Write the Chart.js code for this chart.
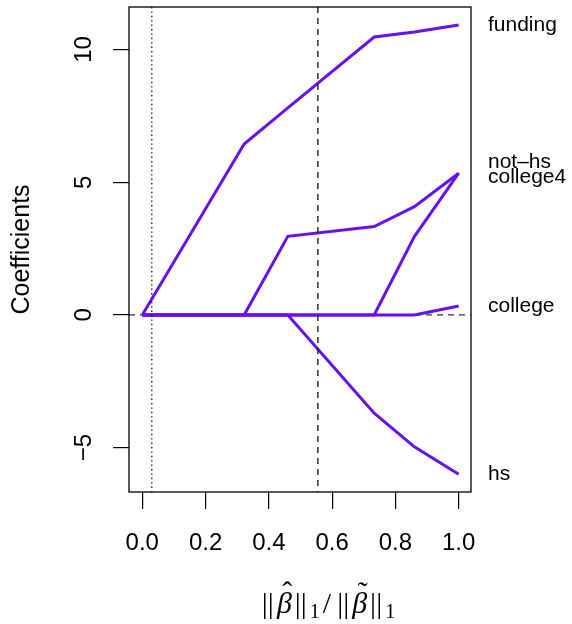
<!DOCTYPE html>
<html>
<head>
<meta charset="utf-8">
<script src="https://cdn.jsdelivr.net/npm/chart.js@4/dist/chart.umd.min.js"></script>
<style>
  body { margin: 0; background: #fff; }
  #wrap { width: 572px; height: 624px; }
</style>
</head>
<body>
<div id="wrap"><canvas id="pathChart"></canvas></div>
<script>
// lasso path: |beta|_1 / max|beta|_1 at each breakpoint
var fraction = [0, 0.322, 0.46, 0.733, 0.86, 1.0];

var funding  = [0, 6.44, 7.8, 10.47, 10.66, 10.92];
var notHs    = [0, 0, 2.96, 3.33, 4.08, 5.34];
var college4 = [0, 0, 0, 0, 2.95, 5.34];
var college  = [0, 0, 0, 0, 0, 0.34];
var hs       = [0, 0, 0, -3.70, -4.97, -6.0];

var seriesNames = ["funding", "not\u2013hs", "college4", "college", "hs"];
var xTicks = [0, 0.2, 0.4, 0.6, 0.8, 1.0];
var yTicks = [-5, 0, 5, 10];

var cvMin = 0.03;   // dotted line
var cvBest = 0.555; // dashed line

var lineColor = "rgb(102, 17, 238)";
var sans = '"Liberation Sans", Arial, sans-serif';

function toPoints(vals) {
    var pts = [];
    for (var i = 0; i < fraction.length; i++) {
        pts.push({ x: fraction[i], y: vals[i] });
    }
    return pts;
}

var allSeries = [funding, notHs, college4, college, hs];
var datasets = [];
for (var i = 0; i < allSeries.length; i++) {
    datasets.push({
        label: seriesNames[i],
        data: toPoints(allSeries[i]),
        borderColor: lineColor,
        borderWidth: 3,
        pointRadius: 0,
        tension: 0,
        fill: false
    });
}

// small nudge so not-hs / college4 don't sit on top of each other
var labelNudge = [0, -11, 4, 0, 0];

var extras = {
    id: "extras",
    beforeDatasetsDraw: function(chart) {
        var ctx = chart.ctx, ys = chart.scales.y;
        var a = chart.chartArea;
        ctx.save();
        ctx.strokeStyle = "#333";
        ctx.lineWidth = 1.3;
        ctx.setLineDash([6, 5]);
        var y0 = ys.getPixelForValue(0);
        ctx.beginPath();
        ctx.moveTo(a.left, y0);
        ctx.lineTo(a.right, y0);
        ctx.stroke();
        ctx.restore();
    },
    afterDatasetsDraw: function(chart) {
        var ctx = chart.ctx, xs = chart.scales.x, ys = chart.scales.y;
        var a = chart.chartArea;
        ctx.save();
        // vertical reference lines
        ctx.strokeStyle = "#222";
        ctx.lineWidth = 1.4;
        ctx.setLineDash([1.4, 3]);
        var xd = xs.getPixelForValue(cvMin);
        ctx.beginPath(); ctx.moveTo(xd, a.top); ctx.lineTo(xd, a.bottom); ctx.stroke();
        ctx.setLineDash([6, 5]);
        var xb = xs.getPixelForValue(cvBest);
        ctx.beginPath(); ctx.moveTo(xb, a.top); ctx.lineTo(xb, a.bottom); ctx.stroke();
        ctx.setLineDash([]);

        // box
        ctx.strokeStyle = "#000";
        ctx.lineWidth = 1.3;
        ctx.strokeRect(a.left, a.top, a.right - a.left, a.bottom - a.top);

        // y tick labels, rotated like R
        ctx.fillStyle = "#000";
        ctx.font = "24px " + sans;
        ctx.textAlign = "center";
        ctx.textBaseline = "middle";
        for (var i = 0; i < yTicks.length; i++) {
            var py = ys.getPixelForValue(yTicks[i]);
            var txt = yTicks[i] < 0 ? "\u2212" + Math.abs(yTicks[i]) : String(yTicks[i]);
            ctx.save();
            ctx.translate(84, py);
            ctx.rotate(-Math.PI / 2);
            ctx.fillText(txt, 0, 0);
            ctx.restore();
        }
        // y title
        ctx.font = "25px " + sans;
        ctx.save();
        ctx.translate(22, (a.top + a.bottom) / 2);
        ctx.rotate(-Math.PI / 2);
        ctx.fillText("Coefficients", 0, 0);
        ctx.restore();

        // right-hand variable names
        ctx.font = "21px " + sans;
        ctx.textAlign = "left";
        for (var j = 0; j < allSeries.length; j++) {
            var last = allSeries[j][allSeries[j].length - 1];
            ctx.fillText(seriesNames[j], a.right + 17, ys.getPixelForValue(last) + labelNudge[j]);
        }

        drawNormRatio(ctx, 327, 613);
        ctx.restore();
    }
};

// ||beta-hat||_1 / ||beta-tilde||_1
function drawNormRatio(ctx, cx, baseY) {
    var up = '30px "Liberation Serif", "DejaVu Serif", serif';
    var it = 'italic 30px "Liberation Serif", "DejaVu Serif", serif';
    var sub = '20px "Liberation Serif", "DejaVu Serif", serif';
    var parts = [
        { t: "||", f: up, pad: 3 }, { t: "\u03b2", f: it, acc: "\u02c6" }, { t: "||", f: up, pad: 3 },
        { t: "1", f: sub, sub: true }, { t: "/", f: up, pad: 3 },
        { t: "||", f: up, pad: 3 }, { t: "\u03b2", f: it, acc: "\u02dc" }, { t: "||", f: up, pad: 3 },
        { t: "1", f: sub, sub: true }
    ];
    var total = 0;
    for (var i = 0; i < parts.length; i++) {
        ctx.font = parts[i].f;
        parts[i].w = ctx.measureText(parts[i].t).width + (parts[i].pad || 0) * 2;
        total += parts[i].w;
    }
    var x = cx - total / 2;
    ctx.textAlign = "left";
    ctx.textBaseline = "alphabetic";
    for (var k = 0; k < parts.length; k++) {
        var p = parts[k];
        ctx.font = p.f;
        ctx.fillText(p.t, x + (p.pad || 0), baseY + (p.sub ? 5 : 0));
        if (p.acc) {
            ctx.font = up;
            var aw = ctx.measureText(p.acc).width;
            ctx.fillText(p.acc, x + p.w / 2 - aw / 2 + 3, baseY - 11);
        }
        x += p.w;
    }
}

var pathChart = new Chart(document.getElementById("pathChart"), {
    type: "line",
    data: { datasets: datasets },
    plugins: [extras],
    options: {
        responsive: true,
        maintainAspectRatio: false,
        animation: false,
        layout: { padding: { top: 7, right: 101, left: 0, bottom: 0 } },
        plugins: { legend: { display: false }, tooltip: { enabled: false } },
        scales: {
            x: {
                type: "linear",
                min: -0.042,
                max: 1.039,
                afterBuildTicks: function(scale) {
                    scale.ticks = xTicks.map(function(v) { return { value: v }; });
                },
                afterFit: function(scale) { scale.height = 132; },
                border: { display: false },
                grid: { drawOnChartArea: false, drawTicks: true, tickLength: 17, color: "#000", lineWidth: 1.2 },
                ticks: {
                    color: "#000",
                    font: { family: sans, size: 24 },
                    maxRotation: 0,
                    autoSkip: false,
                    padding: 20,
                    callback: function(v) { return v.toFixed(1); }
                }
            },
            y: {
                type: "linear",
                min: -6.67,
                max: 11.6,
                afterBuildTicks: function(scale) {
                    scale.ticks = yTicks.map(function(v) { return { value: v }; });
                },
                afterFit: function(scale) { scale.width = 129; },
                border: { display: false },
                grid: { drawOnChartArea: false, drawTicks: true, tickLength: 16, color: "#000", lineWidth: 1.2 },
                ticks: { color: "rgba(0,0,0,0)", font: { size: 1 } }
            }
        }
    }
});
</script>
</body>
</html>
